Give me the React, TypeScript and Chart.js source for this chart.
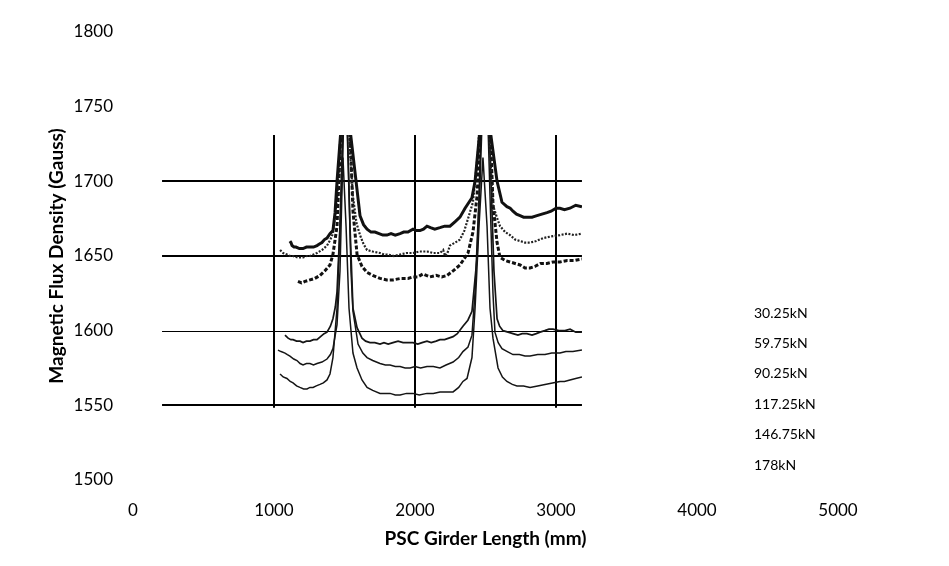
import React, { useEffect, useRef } from "react";
import { Chart, registerables } from "chart.js";

Chart.register(...registerables);

// Tick values
const xTicks = [0, 1000, 2000, 3000, 4000, 5000];
const yTicks = [1500, 1550, 1600, 1650, 1700, 1750, 1800];

// Series labels (legend, top to bottom)
const seriesLabels = ["30.25kN", "59.75kN", "90.25kN", "117.25kN", "146.75kN", "178kN"];

// 30.25kN
const s1X = [1113, 1120, 1128, 1142, 1156, 1180, 1206, 1230, 1255, 1280, 1305, 1322, 1340, 1358, 1376, 1397, 1418, 1433, 1447, 1475, 1507, 1539, 1582, 1610, 1635, 1660, 1688, 1716, 1745, 1772, 1801, 1830, 1860, 1894, 1920, 1950, 1986, 2010, 2035, 2060, 2085, 2110, 2140, 2177, 2210, 2248, 2285, 2319, 2355, 2404, 2426, 2461, 2496, 2532, 2582, 2617, 2652, 2675, 2695, 2720, 2745, 2770, 2794, 2830, 2865, 2900, 2936, 2965, 3000, 3028, 3060, 3099, 3140, 3184];
const s1Y = [1660, 1659, 1657, 1656, 1656, 1655, 1655, 1656, 1656, 1656, 1657, 1658, 1659, 1661, 1662, 1665, 1667, 1679, 1700, 1735, 1800, 1735, 1700, 1677, 1671, 1668, 1666, 1666, 1665, 1664, 1664, 1665, 1664, 1665, 1666, 1666, 1668, 1667, 1667, 1668, 1670, 1669, 1668, 1669, 1670, 1670, 1673, 1676, 1682, 1689, 1700, 1735, 1800, 1735, 1700, 1686, 1683, 1682, 1680, 1678, 1677, 1676, 1676, 1676, 1677, 1678, 1679, 1680, 1682, 1682, 1681, 1682, 1684, 1683];

// 59.75kN
const s2X = [1043, 1065, 1092, 1115, 1135, 1170, 1206, 1230, 1255, 1280, 1305, 1340, 1376, 1400, 1418, 1447, 1468, 1504, 1539, 1560, 1585, 1610, 1635, 1660, 1700, 1752, 1780, 1801, 1850, 1894, 1940, 1986, 2030, 2085, 2130, 2177, 2200, 2213, 2230, 2248, 2285, 2319, 2350, 2376, 2411, 2447, 2496, 2532, 2553, 2580, 2603, 2640, 2674, 2710, 2745, 2780, 2816, 2860, 2908, 2960, 3028, 3080, 3130, 3184];
const s2Y = [1654, 1652, 1651, 1650, 1650, 1649, 1649, 1650, 1650, 1651, 1652, 1654, 1657, 1661, 1665, 1688, 1720, 1800, 1720, 1690, 1672, 1664, 1658, 1654, 1653, 1652, 1651, 1651, 1650, 1651, 1652, 1652, 1653, 1653, 1652, 1652, 1654, 1650, 1652, 1657, 1659, 1661, 1667, 1675, 1686, 1720, 1800, 1720, 1684, 1676, 1670, 1666, 1664, 1661, 1660, 1659, 1659, 1660, 1662, 1663, 1664, 1665, 1664, 1665];

// 90.25kN
const s3X = [1170, 1195, 1220, 1255, 1290, 1326, 1360, 1397, 1418, 1447, 1475, 1507, 1539, 1560, 1589, 1624, 1660, 1700, 1752, 1800, 1844, 1900, 1950, 1986, 2020, 2057, 2080, 2106, 2150, 2190, 2227, 2270, 2319, 2376, 2411, 2440, 2468, 2496, 2532, 2553, 2582, 2603, 2640, 2674, 2710, 2745, 2780, 2816, 2850, 2890, 2936, 2980, 3028, 3080, 3130, 3184];
const s3Y = [1633, 1632, 1633, 1634, 1635, 1637, 1640, 1644, 1651, 1670, 1735, 1800, 1735, 1680, 1651, 1643, 1639, 1637, 1635, 1634, 1634, 1635, 1635, 1636, 1636, 1638, 1637, 1636, 1637, 1636, 1637, 1640, 1644, 1652, 1666, 1690, 1740, 1800, 1740, 1685, 1659, 1649, 1647, 1646, 1645, 1644, 1642, 1642, 1643, 1645, 1645, 1646, 1646, 1647, 1647, 1648];

// 117.25kN
const s4X = [1078, 1100, 1120, 1135, 1160, 1185, 1206, 1230, 1255, 1280, 1305, 1330, 1355, 1376, 1400, 1418, 1435, 1447, 1468, 1489, 1504, 1518, 1539, 1560, 1589, 1624, 1650, 1681, 1715, 1752, 1780, 1810, 1844, 1880, 1915, 1950, 1986, 2020, 2050, 2085, 2115, 2150, 2177, 2210, 2240, 2270, 2300, 2340, 2375, 2404, 2440, 2461, 2482, 2496, 2518, 2539, 2560, 2582, 2600, 2624, 2660, 2695, 2730, 2760, 2794, 2830, 2860, 2887, 2920, 2950, 2979, 3020, 3064, 3100, 3140, 3184];
const s4Y = [1597, 1595, 1594, 1594, 1593, 1593, 1592, 1593, 1593, 1594, 1594, 1596, 1598, 1599, 1603, 1608, 1616, 1626, 1670, 1740, 1800, 1740, 1670, 1615, 1602, 1595, 1593, 1592, 1592, 1591, 1592, 1591, 1592, 1593, 1592, 1592, 1592, 1591, 1592, 1593, 1592, 1593, 1594, 1594, 1595, 1596, 1598, 1603, 1607, 1613, 1649, 1700, 1760, 1800, 1760, 1700, 1640, 1608, 1603, 1600, 1599, 1598, 1597, 1598, 1598, 1597, 1598, 1599, 1600, 1601, 1601, 1600, 1600, 1601, 1599, 1599];

// 146.75kN
const s5X = [1028, 1050, 1078, 1095, 1113, 1140, 1163, 1185, 1206, 1230, 1255, 1280, 1305, 1340, 1376, 1400, 1418, 1447, 1468, 1489, 1504, 1525, 1546, 1560, 1596, 1630, 1660, 1700, 1752, 1790, 1823, 1860, 1894, 1930, 1965, 2000, 2040, 2085, 2130, 2177, 2220, 2270, 2310, 2340, 2376, 2404, 2426, 2454, 2475, 2489, 2511, 2532, 2553, 2567, 2590, 2617, 2655, 2695, 2740, 2780, 2816, 2870, 2922, 2970, 3028, 3070, 3120, 3184];
const s5Y = [1587, 1586, 1585, 1584, 1583, 1581, 1580, 1578, 1577, 1578, 1578, 1577, 1578, 1579, 1581, 1584, 1588, 1604, 1640, 1720, 1790, 1720, 1640, 1613, 1591, 1585, 1582, 1580, 1578, 1577, 1577, 1576, 1576, 1575, 1575, 1576, 1575, 1576, 1576, 1575, 1577, 1579, 1582, 1586, 1589, 1597, 1626, 1690, 1760, 1800, 1760, 1690, 1625, 1599, 1592, 1588, 1586, 1584, 1584, 1583, 1583, 1584, 1584, 1585, 1585, 1586, 1586, 1587];

// 178kN
const s6X = [1043, 1065, 1092, 1115, 1135, 1160, 1184, 1210, 1234, 1255, 1277, 1300, 1326, 1350, 1376, 1397, 1418, 1447, 1468, 1489, 1511, 1532, 1560, 1589, 1624, 1660, 1700, 1752, 1790, 1823, 1860, 1894, 1940, 1986, 2030, 2085, 2130, 2177, 2220, 2270, 2310, 2340, 2369, 2404, 2426, 2454, 2482, 2511, 2532, 2553, 2589, 2620, 2652, 2690, 2723, 2770, 2816, 2870, 2922, 2975, 3028, 3060, 3099, 3140, 3184];
const s6Y = [1571, 1569, 1568, 1566, 1565, 1563, 1562, 1561, 1561, 1562, 1562, 1563, 1564, 1565, 1567, 1571, 1582, 1615, 1670, 1716, 1670, 1615, 1585, 1575, 1567, 1562, 1560, 1558, 1558, 1558, 1557, 1557, 1558, 1558, 1557, 1558, 1558, 1559, 1559, 1559, 1562, 1566, 1568, 1582, 1615, 1670, 1716, 1670, 1615, 1595, 1575, 1569, 1566, 1564, 1563, 1563, 1562, 1563, 1564, 1565, 1566, 1566, 1567, 1568, 1569];

// Partial grid drawn in the original (data units)
const gridYValues = [1550, 1600, 1650, 1700];
const gridYWidths = [2, 1, 2, 2];
const gridXValues = [1000, 2000, 3000];
const GRID_X_MIN = 206;
const GRID_X_MAX = 3184;
const GRID_Y_MIN = 1549;
const GRID_Y_MAX = 1731;

const seriesX = [s1X, s2X, s3X, s4X, s5X, s6X];
const seriesY = [s1Y, s2Y, s3Y, s4Y, s5Y, s6Y];
const seriesStyles = [
  { borderWidth: 3, borderDash: [] as number[], borderColor: "#111" },
  { borderWidth: 2.2, borderDash: [2, 1.5], borderColor: "#222" },
  { borderWidth: 3, borderDash: [4, 2], borderColor: "#111" },
  { borderWidth: 1.7, borderDash: [] as number[], borderColor: "#151515" },
  { borderWidth: 1.5, borderDash: [] as number[], borderColor: "#151515" },
  { borderWidth: 1.5, borderDash: [] as number[], borderColor: "#151515" },
];

const FONT = "Lato, 'Open Sans', sans-serif";

const partialGridPlugin = {
  id: "partialGrid",
  beforeDatasetsDraw(chart: any) {
    const { ctx, scales } = chart;
    const xs = scales.x;
    const ys = scales.y;
    ctx.save();
    ctx.strokeStyle = "#000";
    gridYValues.forEach((v, i) => {
      ctx.lineWidth = gridYWidths[i];
      const y = Math.round(ys.getPixelForValue(v)) + (gridYWidths[i] % 2 ? 0.5 : 0);
      ctx.beginPath();
      ctx.moveTo(xs.getPixelForValue(GRID_X_MIN), y);
      ctx.lineTo(xs.getPixelForValue(GRID_X_MAX), y);
      ctx.stroke();
    });
    ctx.lineWidth = 2;
    gridXValues.forEach((v) => {
      const x = Math.round(xs.getPixelForValue(v));
      ctx.beginPath();
      ctx.moveTo(x, ys.getPixelForValue(GRID_Y_MAX));
      ctx.lineTo(x, ys.getPixelForValue(GRID_Y_MIN) + 1);
      ctx.stroke();
    });
    ctx.restore();
    // clip data lines to the image area of the original
    ctx.save();
    const left = xs.getPixelForValue(0);
    const right = xs.getPixelForValue(GRID_X_MAX);
    const top = ys.getPixelForValue(GRID_Y_MAX);
    const bottom = ys.getPixelForValue(1500);
    ctx.beginPath();
    ctx.rect(left, top, right - left, bottom - top);
    ctx.clip();
  },
  afterDatasetsDraw(chart: any) {
    chart.ctx.restore();
  },
};

const textLegendPlugin = {
  id: "textLegend",
  afterDraw(chart: any) {
    const { ctx } = chart;
    ctx.save();
    ctx.fillStyle = "#000";
    ctx.font = `14px ${FONT}`;
    ctx.textAlign = "left";
    ctx.textBaseline = "middle";
    chart.data.datasets.forEach((ds: any, i: number) => {
      ctx.fillText(ds.label, 754, 313 + i * 30.4);
    });
    ctx.restore();
  },
};

export default function App() {
  const ref = useRef<HTMLCanvasElement | null>(null);
  useEffect(() => {
    document.body.style.margin = "0";
    if (!ref.current) return;
    const chart = new Chart(ref.current, {
      type: "line",
      data: {
        datasets: seriesLabels.map((label, i) => ({
          label,
          data: seriesX[i].map((x, j) => ({ x, y: seriesY[i][j] })),
          pointRadius: 0,
          tension: 0,
          fill: false,
          ...seriesStyles[i],
        })),
      },
      options: {
        animation: false,
        responsive: false,
        layout: { padding: { top: 32, right: 111, left: 0, bottom: 0 } },
        plugins: { legend: { display: false }, tooltip: { enabled: false } },
        scales: {
          x: {
            type: "linear",
            min: 0,
            max: 5000,
            afterBuildTicks: (s: any) => {
              s.ticks = xTicks.map((v) => ({ value: v }));
            },
            afterFit: (s: any) => {
              s.height = 86;
            },
            grid: { display: false, drawTicks: false },
            border: { display: false },
            ticks: {
              color: "#000",
              padding: 20,
              maxRotation: 0,
              font: { family: FONT, size: 17 },
              callback: (v: any) => String(v),
            },
            title: {
              display: true,
              text: "PSC Girder Length (mm)",
              color: "#000",
              font: { family: FONT, size: 19, weight: "bold" },
              padding: { top: 0, bottom: 16 },
            },
          },
          y: {
            min: 1500,
            max: 1800,
            afterBuildTicks: (s: any) => {
              s.ticks = yTicks.map((v) => ({ value: v }));
            },
            afterFit: (s: any) => {
              s.width = 133;
            },
            grid: { display: false, drawTicks: false },
            border: { display: false },
            ticks: {
              color: "#000",
              padding: 20,
              font: { family: FONT, size: 17 },
              callback: (v: any) => String(v),
            },
            title: {
              display: true,
              text: "Magnetic Flux Density (Gauss)",
              color: "#000",
              font: { family: FONT, size: 19, weight: "bold" },
              padding: { top: 45, bottom: 0 },
            },
          },
        },
      },
      plugins: [partialGridPlugin, textLegendPlugin],
    });
    return () => chart.destroy();
  }, []);
  return (
    <div style={{ width: 949, height: 566, background: "#fff" }}>
      <canvas ref={ref} width={949} height={566} />
    </div>
  );
}
